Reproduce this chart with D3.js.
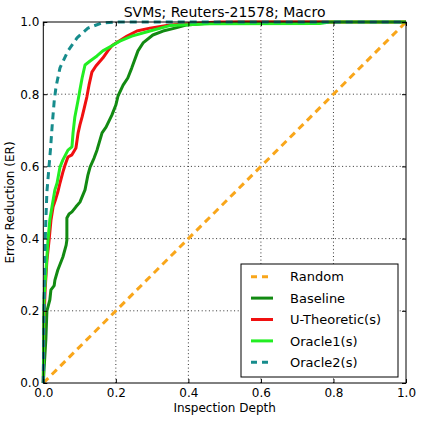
<!DOCTYPE html>
<html>

<head>
    <meta charset="utf-8">
    <title>SVMs; Reuters-21578; Macro</title>
    <script src="https://d3js.org/d3.v7.min.js"></script>
    <style>
        body { margin: 0; background: #fff; }
        text { font-family: "DejaVu Sans", sans-serif; }
    </style>
</head>

<body>
    <div id='view'></div>

    <script>
        // data: [inspection depth, error reduction]
        var randomPts = [[0, 0], [1, 1]];
        var baselinePts = [[0, 0], [0.002, 0.036], [0.007, 0.12], [0.01, 0.2], [0.018, 0.23], [0.021, 0.258],
            [0.03, 0.27], [0.032, 0.285], [0.04, 0.313], [0.054, 0.349], [0.063, 0.382], [0.065, 0.396],
            [0.065, 0.457], [0.071, 0.468], [0.079, 0.474], [0.09, 0.488], [0.101, 0.501], [0.115, 0.535],
            [0.123, 0.576], [0.129, 0.598], [0.14, 0.623], [0.148, 0.645], [0.162, 0.693], [0.173, 0.709],
            [0.189, 0.742], [0.2, 0.77], [0.206, 0.795], [0.22, 0.825], [0.233, 0.845], [0.244, 0.873],
            [0.261, 0.92], [0.275, 0.942], [0.302, 0.964], [0.33, 0.975], [0.363, 0.983], [0.396, 0.992],
            [0.459, 0.997], [0.54, 1.0], [1, 1]];
        var uTheoreticPts = [[0, 0], [0.001, 0.09], [0.002, 0.175], [0.005, 0.258], [0.01, 0.34], [0.016, 0.396],
            [0.021, 0.45], [0.027, 0.488], [0.035, 0.512], [0.04, 0.529], [0.046, 0.554], [0.054, 0.584],
            [0.06, 0.604], [0.068, 0.626], [0.079, 0.632], [0.09, 0.651], [0.096, 0.693], [0.101, 0.715],
            [0.107, 0.737], [0.113, 0.762], [0.12, 0.792], [0.126, 0.825], [0.134, 0.861], [0.145, 0.878],
            [0.164, 0.9], [0.178, 0.92], [0.189, 0.934], [0.206, 0.945], [0.231, 0.961], [0.258, 0.975],
            [0.294, 0.983], [0.349, 0.992], [0.432, 0.997], [0.487, 1], [1, 1]];
        var oracle1Pts = [[0, 0], [0.001, 0.12], [0.002, 0.23], [0.007, 0.305], [0.013, 0.396], [0.018, 0.452],
            [0.024, 0.488], [0.032, 0.535], [0.038, 0.554], [0.046, 0.598], [0.054, 0.618], [0.068, 0.645],
            [0.079, 0.654], [0.082, 0.693], [0.087, 0.737], [0.096, 0.784], [0.101, 0.812], [0.107, 0.845],
            [0.115, 0.881], [0.129, 0.892], [0.148, 0.906], [0.164, 0.92], [0.189, 0.934], [0.211, 0.947],
            [0.244, 0.961], [0.294, 0.975], [0.349, 0.99], [0.459, 0.995], [0.762, 0.996], [0.79, 1], [1, 1]];
        var oracle2Pts = [[0, 0], [0.002, 0.2], [0.004, 0.35], [0.007, 0.45], [0.01, 0.53], [0.02, 0.65],
            [0.025, 0.72], [0.03, 0.78], [0.035, 0.82], [0.046, 0.873], [0.068, 0.92], [0.093, 0.956],
            [0.123, 0.983], [0.16, 0.997], [0.2, 1], [1, 1]];
        var ticks = [0, 0.2, 0.4, 0.6, 0.8, 1.0];

        var series = [
            { name: "Random", pts: randomPts, color: "#f9a61a", dash: "7,5" },
            { name: "Baseline", pts: baselinePts, color: "#128a12", dash: null },
            { name: "U-Theoretic(s)", pts: uTheoreticPts, color: "#f01010", dash: null },
            { name: "Oracle1(s)", pts: oracle1Pts, color: "#22ee22", dash: null },
            { name: "Oracle2(s)", pts: oracle2Pts, color: "#168c8c", dash: "7,5" }
        ];

        var width = 423;
        var height = 424;
        var pLeft = 43.3, pRight = 406, pTop = 22, pBottom = 383;

        var svg = d3.select("#view")
            .append("svg")
            .attr("width", width)
            .attr("height", height);

        var x = d3.scaleLinear().domain([0, 1]).range([pLeft, pRight]);
        var y = d3.scaleLinear().domain([0, 1]).range([pBottom, pTop]);
        var fmt = d3.format(".1f");

        // grid
        var grid = svg.append("g");
        ticks.slice(1, -1).forEach(function (t) {
            grid.append("line").attr("x1", x(t)).attr("x2", x(t)).attr("y1", pTop).attr("y2", pBottom);
            grid.append("line").attr("x1", pLeft).attr("x2", pRight).attr("y1", y(t)).attr("y2", y(t));
        });
        grid.selectAll("line")
            .attr("stroke", "#333")
            .attr("stroke-width", 1)
            .attr("stroke-dasharray", "1,2.6");

        // curves
        var line = d3.line().x(function (d) { return x(d[0]); }).y(function (d) { return y(d[1]); });
        series.forEach(function (s) {
            svg.append("path")
                .datum(s.pts)
                .attr("d", line)
                .attr("fill", "none")
                .attr("stroke", s.color)
                .attr("stroke-width", 3)
                .attr("stroke-linejoin", "round")
                .attr("stroke-dasharray", s.dash);
        });

        // axes with inward ticks on all sides
        var axB = svg.append("g").attr("transform", "translate(0," + pBottom + ")")
            .call(d3.axisBottom(x).tickValues(ticks).tickFormat(fmt).tickSizeInner(-4).tickSizeOuter(0).tickPadding(5));
        var axL = svg.append("g").attr("transform", "translate(" + pLeft + ",0)")
            .call(d3.axisLeft(y).tickValues(ticks).tickFormat(fmt).tickSizeInner(-4).tickSizeOuter(0).tickPadding(4));
        var axT = svg.append("g").attr("transform", "translate(0," + pTop + ")")
            .call(d3.axisTop(x).tickValues(ticks).tickFormat("").tickSizeInner(-4).tickSizeOuter(0));
        var axR = svg.append("g").attr("transform", "translate(" + pRight + ",0)")
            .call(d3.axisRight(y).tickValues(ticks).tickFormat("").tickSizeInner(-4).tickSizeOuter(0));
        [axB, axL, axT, axR].forEach(function (a) {
            a.select(".domain").remove();
            a.selectAll("text").attr("font-size", 12).attr("fill", "#000")
                .style("font-family", "DejaVu Sans");
            a.selectAll("line").attr("stroke", "#000");
        });
        axB.selectAll("text").attr("dy", "0.71em");

        svg.append("rect")
            .attr("x", pLeft).attr("y", pTop)
            .attr("width", pRight - pLeft).attr("height", pBottom - pTop)
            .attr("fill", "none").attr("stroke", "#000").attr("stroke-width", 1);

        // labels
        svg.append("text")
            .attr("x", (pLeft + pRight) / 2).attr("y", 17)
            .attr("text-anchor", "middle").attr("font-size", 14)
            .text("SVMs; Reuters-21578; Macro");
        svg.append("text")
            .attr("x", (pLeft + pRight) / 2).attr("y", 412)
            .attr("text-anchor", "middle").attr("font-size", 12)
            .text("Inspection Depth");
        svg.append("text")
            .attr("transform", "translate(14," + (pTop + pBottom) / 2 + ") rotate(-90)")
            .attr("text-anchor", "middle").attr("font-size", 12)
            .text("Error Reduction (ER)");

        // legend
        var lg = svg.append("g").attr("transform", "translate(241,264)");
        lg.append("rect").attr("width", 157).attr("height", 113)
            .attr("fill", "#fff").attr("stroke", "#000").attr("stroke-width", 1);
        series.forEach(function (s, i) {
            var yy = 12.7 + i * 21.4;
            lg.append("line").attr("x1", 10).attr("x2", 32).attr("y1", yy).attr("y2", yy)
                .attr("stroke", s.color).attr("stroke-width", 3)
                .attr("stroke-dasharray", s.dash ? "6,5" : null);
            lg.append("text").attr("x", 49).attr("y", yy).attr("dy", "0.36em")
                .attr("font-size", 13).text(s.name);
        });
    </script>

</body>

</html>
